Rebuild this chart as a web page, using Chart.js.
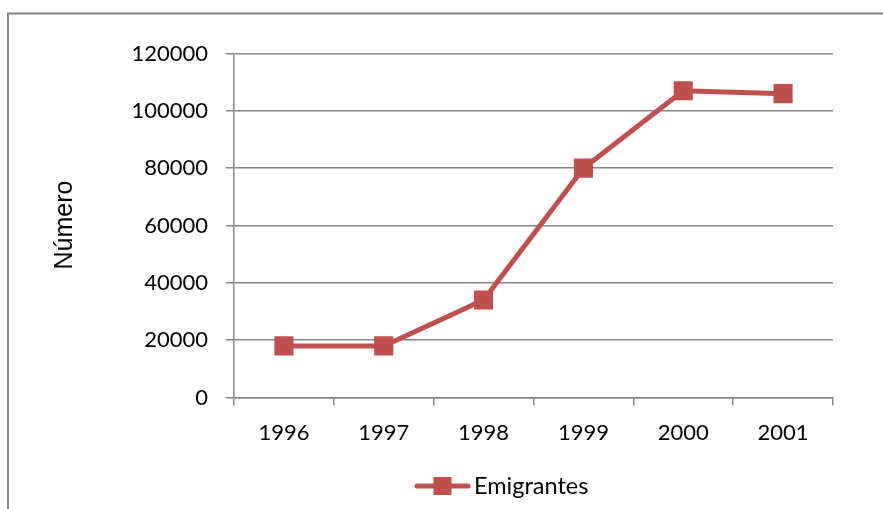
<!DOCTYPE html>
<html>
<head>
<meta charset="utf-8">
<script src="https://cdn.jsdelivr.net/npm/chart.js@4/dist/chart.umd.min.js"></script>
<style>
html,body{margin:0;padding:0;background:#fff;}
#wrap{width:883px;height:509px;position:relative;}
</style>
</head>
<body>
<div id="wrap"><canvas id="c" width="883" height="509"></canvas></div>
<script>
const categories = ['1996', '1997', '1998', '1999', '2000', '2001'];
const emigrantes = [18000, 18000, 34000, 80000, 107000, 106000];
const seriesName = 'Emigrantes';
const yTitle = 'Número';
const yMin = 0, yMax = 120000, yStep = 20000;

const RED = '#C0504D';
const GRAY = '#868686';
const FONT = 'Lato, "Open Sans", sans-serif';

const extras = {
  id: 'extras',
  beforeDraw(chart) {
    const ctx = chart.ctx;
    ctx.save();
    ctx.strokeStyle = GRAY;
    ctx.lineWidth = 2;
    ctx.strokeRect(8, 13.5, 900, 600);
    ctx.restore();
  },
  afterDraw(chart) {
    const ctx = chart.ctx;
    // y title
    ctx.save();
    ctx.fillStyle = '#000';
    ctx.font = '25px "Liberation Sans", Arial, sans-serif';
    ctx.textAlign = 'center';
    ctx.textBaseline = 'middle';
    ctx.translate(65, 225);
    ctx.rotate(-Math.PI / 2);
    ctx.fillText(yTitle, 0, 0);
    ctx.restore();
    // legend
    ctx.save();
    const ly = 486;
    ctx.strokeStyle = RED;
    ctx.lineWidth = 5;
    ctx.lineCap = 'round';
    ctx.beginPath();
    ctx.moveTo(417, ly);
    ctx.lineTo(468, ly);
    ctx.stroke();
    ctx.fillStyle = RED;
    ctx.fillRect(433.5, ly - 9, 18, 18);
    ctx.fillStyle = '#000';
    ctx.font = '23.5px ' + FONT;
    ctx.textAlign = 'left';
    ctx.textBaseline = 'middle';
    ctx.fillText(seriesName, 474, ly);
    ctx.restore();
  }
};

new Chart(document.getElementById('c'), {
  type: 'line',
  data: {
    labels: categories,
    datasets: [{
      label: seriesName,
      data: emigrantes,
      borderColor: RED,
      backgroundColor: RED,
      borderWidth: 5,
      tension: 0,
      pointStyle: 'rect',
      pointRadius: 13.5,
      pointHoverRadius: 13.5,
      pointBackgroundColor: RED,
      pointBorderColor: RED,
      pointBorderWidth: 0
    }]
  },
  options: {
    responsive: false,
    animation: false,
    layout: { padding: { left: 0, right: 50, top: 53.5, bottom: 0 } },
    plugins: {
      legend: { display: false },
      tooltip: { enabled: false },
      title: { display: false }
    },
    scales: {
      x: {
        offset: true,
        grid: {
          display: true,
          drawOnChartArea: false,
          drawTicks: true,
          tickLength: 8,
          color: GRAY,
          lineWidth: 1.5,
          offset: true
        },
        border: { display: true, color: GRAY, width: 1.5 },
        ticks: { color: '#000', font: { family: FONT, size: 22 }, padding: 14, maxRotation: 0 },
        afterFit(scale) { scale.height = 509 - 397.5; }
      },
      y: {
        min: yMin,
        max: yMax,
        ticks: {
          stepSize: yStep, color: '#000', font: { family: FONT, size: 22 }, padding: 18,
          callback: (v) => String(v)
        },
        grid: {
          color: GRAY,
          lineWidth: 1.5,
          drawTicks: true,
          tickLength: 8
        },
        border: { display: true, color: GRAY, width: 1.5 },
        afterFit(scale) { scale.width = 234; }
      }
    }
  },
  plugins: [extras]
});
</script>
</body>
</html>
